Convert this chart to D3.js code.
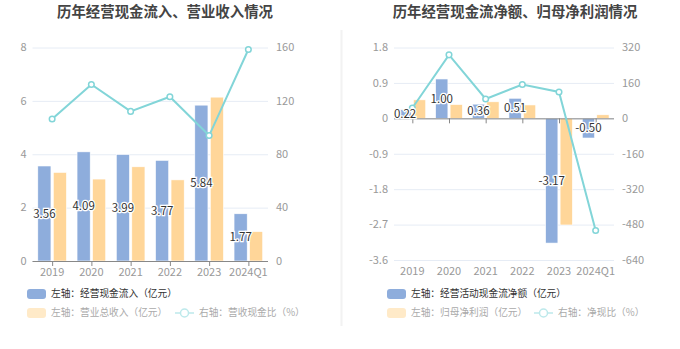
<!DOCTYPE html>
<html><head><meta charset="utf-8">
<script src="https://cdn.jsdelivr.net/npm/d3@7"></script>
<style>body{margin:0;background:#fff}svg{display:block;font-family:"Noto Sans CJK SC","Microsoft YaHei",sans-serif}</style>
</head><body><svg id="c" width="680" height="349"></svg>
<script>
const categories = ["2019","2020","2021","2022","2023","2024Q1"];
// left chart
const cashInflow = [3.56,4.09,3.99,3.77,5.84,1.77];
const revenue = [3.32,3.07,3.53,3.04,6.14,1.10];
const cashRevRatio = [106.4,132.3,112.1,123.1,94.0,158.5];
const leftTicksL = [0,2,4,6,8];
const leftTicksR = [0,40,80,120,160];
// right chart
const netCashFlow = [0.22,1.00,0.36,0.51,-3.17,-0.50];
const netProfit = [0.47,0.35,0.42,0.34,-2.71,0.09];
const netCashRatio = [46.6,286.7,87.4,152.6,119.1,-507];
const rightTicksL = [-3.6,-2.7,-1.8,-0.9,0,0.9,1.8];
const rightTicksR = [-640,-480,-320,-160,0,160,320];

const svg = d3.select("#c");
const BLUE="#8EADDC", ORANGE="#FFD699", LINE="#82D5D8";

function panel(o){
  const g = svg.append("g");
  const x = d3.scaleBand().domain(categories).range([o.x0,o.x1]);
  const y = d3.scaleLinear().domain(o.domL).range([o.yb,o.yt]);
  const y2 = d3.scaleLinear().domain(o.domR).range([o.yb,o.yt]);
  g.append("text").attr("x",o.tx).attr("y",17).attr("text-anchor","middle")
    .attr("font-size",14.4).attr("font-weight","bold").attr("fill","#444").text(o.title);
  g.selectAll(".gl").data(o.ticksL).join("line").attr("x1",o.x0).attr("x2",o.x1)
    .attr("y1",d=>y(d)+0.5).attr("y2",d=>y(d)+0.5).attr("stroke","#E6ECF5").attr("stroke-width",1);
  g.selectAll(".ll").data(o.ticksL).join("text").attr("x",o.x0-6).attr("y",d=>y(d)).attr("dy","0.35em")
    .attr("text-anchor","end").attr("font-size",11).attr("fill","#999").text(d=>d);
  g.selectAll(".rl").data(o.ticksR).join("text").attr("x",o.x1+8).attr("y",d=>y2(d)).attr("dy","0.35em")
    .attr("text-anchor","start").attr("font-size",11).attr("fill","#999").text(d=>d);
  const bw = x.bandwidth()*0.335, gap = x.bandwidth()*0.06, off = (x.bandwidth()-2*bw-gap)/2;
  g.selectAll(".b1").data(o.s1).join("rect")
    .attr("x",(d,i)=>x(categories[i])+off).attr("width",bw)
    .attr("y",d=>Math.min(y(d),y(0))).attr("height",d=>Math.abs(y(d)-y(0)))
    .attr("fill",BLUE).attr("stroke","#fff").attr("stroke-width",0.6);
  g.selectAll(".b2").data(o.s2).join("rect")
    .attr("x",(d,i)=>x(categories[i])+off+bw+gap).attr("width",bw)
    .attr("y",d=>Math.min(y(d),y(0))).attr("height",d=>Math.abs(y(d)-y(0)))
    .attr("fill",ORANGE).attr("stroke","#fff").attr("stroke-width",0.6);
  g.append("line").attr("x1",o.x0).attr("x2",o.x1).attr("y1",y(0)+0.5).attr("y2",y(0)+0.5).attr("stroke","#888");
  g.selectAll(".tk").data(categories).join("line")
    .attr("x1",d=>x(d)+x.bandwidth()/2+0.5).attr("x2",d=>x(d)+x.bandwidth()/2+0.5)
    .attr("y1",y(0)).attr("y2",y(0)+5).attr("stroke","#888");
  g.selectAll(".xl").data(categories).join("text")
    .attr("x",d=>x(d)+x.bandwidth()/2).attr("y",o.yb+11).attr("dy","0.35em")
    .attr("text-anchor","middle").attr("font-size",11).attr("fill","#999").text(d=>d);
  const pts = o.s3.map((d,i)=>[x(categories[i])+x.bandwidth()/2, y2(d)]);
  g.append("path").attr("d",d3.line()(pts)).attr("fill","none").attr("stroke",LINE).attr("stroke-width",2);
  g.selectAll(".pt").data(pts).join("circle").attr("cx",d=>d[0]).attr("cy",d=>d[1]).attr("r",2.8)
    .attr("fill","#fff").attr("stroke",LINE).attr("stroke-width",1.5);
  g.selectAll(".vl").data(o.s1).join("text")
    .attr("x",(d,i)=>x(categories[i])+off+bw/2).attr("y",d=>(y(d)+y(0))/2).attr("dy","0.35em")
    .attr("text-anchor","middle").attr("font-size",11.5).attr("fill","#333")
    .attr("stroke","#fff").attr("stroke-width",2.5).attr("paint-order","stroke")
    .text(d=>d.toFixed(2));
  const L = g.append("g");
  L.append("rect").attr("x",o.lx).attr("y",289).attr("width",19).attr("height",10).attr("rx",3).attr("fill",BLUE);
  L.append("text").attr("x",o.lx+24).attr("y",294).attr("dy","0.35em").attr("font-size",9.7).attr("fill","#333").text(o.leg1);
  L.append("rect").attr("x",o.lx).attr("y",308).attr("width",19).attr("height",10).attr("rx",3).attr("fill","#FFEAC8");
  L.append("text").attr("x",o.lx+24).attr("y",313).attr("dy","0.35em").attr("font-size",9.7).attr("fill","#aaa").text(o.leg2);
  L.append("line").attr("x1",o.lx2).attr("x2",o.lx2+19).attr("y1",313).attr("y2",313).attr("stroke","#BDE9EB").attr("stroke-width",1.5);
  L.append("circle").attr("cx",o.lx2+9.5).attr("cy",313).attr("r",4).attr("fill","#fff").attr("stroke","#BDE9EB").attr("stroke-width",1.5);
  L.append("text").attr("x",o.lx2+24).attr("y",313).attr("dy","0.35em").attr("font-size",9.7).attr("fill","#aaa").text(o.leg3);
}

panel({x0:32.5,x1:268,yt:47.5,yb:261,domL:[0,8],domR:[0,160],ticksL:leftTicksL,ticksR:leftTicksR,
  s1:cashInflow,s2:revenue,s3:cashRevRatio,title:"历年经营现金流入、营业收入情况",tx:165,
  lx:27,lx2:175,leg1:"左轴：经营现金流入（亿元）",leg2:"左轴：营业总收入（亿元）",leg3:"右轴：营收现金比（%）"});
panel({x0:394,x1:614,yt:47.5,yb:260,domL:[-3.6,1.8],domR:[-640,320],ticksL:rightTicksL,ticksR:rightTicksR,
  s1:netCashFlow,s2:netProfit,s3:netCashRatio,title:"历年经营现金流净额、归母净利润情况",tx:515,
  lx:387,lx2:534,leg1:"左轴：经营活动现金流净额（亿元）",leg2:"左轴：归母净利润（亿元）",leg3:"右轴：净现比（%）"});
svg.append("line").attr("x1",341.5).attr("x2",341.5).attr("y1",30).attr("y2",326).attr("stroke","#F2F2F2").attr("stroke-width",2);
</script></body></html>
